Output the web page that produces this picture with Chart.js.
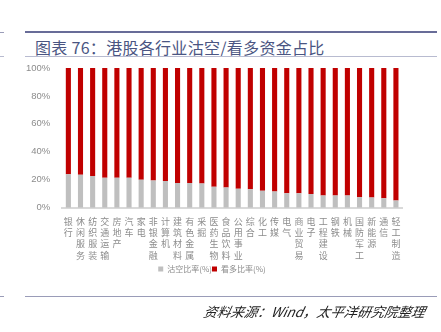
<!DOCTYPE html>
<html>
<head>
<meta charset="utf-8">
<script src="https://cdn.jsdelivr.net/npm/chart.js@4/dist/chart.umd.min.js"></script>
<style>
  html, body { margin: 0; padding: 0; background: #fff; }
  #wrap { position: relative; width: 441px; height: 332px; overflow: hidden; }
  #chart { position: absolute; left: 0; top: 0; }
  .rule { position: absolute; }
  .title {
    position: absolute; left: 35px; top: 35px;
    font: 16px "Noto Sans CJK SC", sans-serif; color: #4a5582; letter-spacing: 0.3px;
    white-space: nowrap;
  }
  .source {
    position: absolute; left: 204px; top: 301px;
    font: italic 13.5px "Noto Sans CJK SC", sans-serif; color: #222;
    white-space: nowrap; transform: skewX(-12deg);
  }
</style>
</head>
<body>
<div id="wrap">
  <div class="rule" style="left:25px;top:31px;width:412px;height:2px;background:#686c98;"></div>
  <div class="rule" style="left:0;top:32px;width:4px;height:1px;background:#9a9cb8;"></div>
  <div class="title">图表 76：港股各行业沽空/看多资金占比</div>
  <div class="rule" style="left:25px;top:56px;width:412px;height:1px;background:#b8bbd0;"></div>
  <div class="rule" style="left:0;top:56px;width:4px;height:1px;background:#b8bbd0;"></div>
  <canvas id="chart" width="441" height="332"></canvas>
  <div class="rule" style="left:25px;top:296px;width:412px;height:1px;background:#9a9cb8;"></div>
  <div class="rule" style="left:0;top:296px;width:4px;height:1px;background:#9a9cb8;"></div>
  <div class="source">资料来源：Wind，太平洋研究院整理</div>
</div>
<script>
// industries, left to right
const industries = ['银行', '休闲服务', '纺织服装', '交通运输', '房地产', '汽车', '家电', '非银金融',
  '计算机', '建筑材料', '有色金属', '采掘', '医药生物', '食品饮料', '公用事业', '综合', '化工',
  '传媒', '电气', '商业贸易', '电子', '工程建设', '钢铁', '机械', '国防军工', '新能源', '通信', '轻工制造'];

// short share (%)
const shortRatio = [24.0, 23.5, 22.7, 21.4, 21.4, 21.4, 20.0, 19.4, 19.0, 17.7, 17.7, 17.2, 14.9, 14.5,
  13.6, 13.1, 12.1, 11.5, 10.3, 10.3, 9.7, 8.7, 8.7, 8.7, 7.4, 7.2, 6.7, 5.1];

// long share is the rest
const longRatio = [76.0, 76.5, 77.3, 78.6, 78.6, 78.6, 80.0, 80.6, 81.0, 82.3, 82.3, 82.8, 85.1, 85.5,
  86.4, 86.9, 87.9, 88.5, 89.7, 89.7, 90.3, 91.3, 91.3, 91.3, 92.6, 92.8, 93.3, 94.9];

const yTicks = [0, 10, 20, 30, 40, 50, 60, 70, 80, 90, 100];

// one character per line so the labels read top to bottom
const verticalLabels = industries.map(name => name.split(''));

new Chart(document.getElementById('chart'), {
  type: 'bar',
  data: {
    labels: verticalLabels,
    datasets: [{
      label: '沽空比率(%)',
      data: shortRatio,
      backgroundColor: '#bfbfbf',
      barPercentage: 0.42,
      categoryPercentage: 1
    }, {
      label: '看多比率(%)',
      data: longRatio,
      backgroundColor: '#c00000',
      barPercentage: 0.42,
      categoryPercentage: 1
    }]
  },
  options: {
    responsive: false,
    animation: false,
    layout: { padding: { top: 68, left: 22, right: 39, bottom: 49 } },
    plugins: {
      tooltip: { enabled: false },
      legend: {
        position: 'bottom',
        labels: {
          boxWidth: 5,
          boxHeight: 5,
          padding: 0,
          color: '#8c8c8c',
          font: { family: '"Noto Sans CJK SC", sans-serif', size: 8 }
        }
      }
    },
    scales: {
      x: {
        stacked: true,
        grid: { display: false, drawTicks: false },
        border: { color: '#d9d9d9', width: 2 },
        // trim the empty strip under the labels so the legend sits closer
        afterFit: axis => { axis.height -= 4; },
        ticks: {
          autoSkip: false,
          maxRotation: 0,
          minRotation: 0,
          padding: 8,
          color: '#8c8c8c',
          font: { family: '"Noto Sans CJK SC", sans-serif', size: 9, lineHeight: 1.26 }
        }
      },
      y: {
        stacked: true,
        min: 0,
        max: 100,
        grid: { display: false },
        border: { display: false },
        afterBuildTicks: axis => { axis.ticks = yTicks.map(v => ({ value: v })); },
        ticks: {
          padding: 4,
          color: '#8c8c8c',
          font: { family: '"Liberation Sans Narrow", "Liberation Sans", sans-serif', size: 9.5 },
          callback: v => v + '%'
        }
      }
    }
  }
});
</script>
</body>
</html>
